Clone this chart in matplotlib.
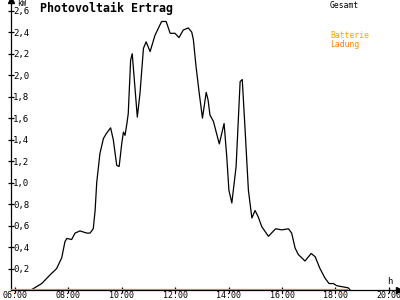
import matplotlib.pyplot as plt
import numpy as np

# Gesamt-Leistung (kW) ueber die Uhrzeit (h)
stunde = [6.60, 7.00, 7.31, 7.56, 7.75, 7.87, 7.94, 8.12, 8.25, 8.43, 8.69, 8.81,
          8.93, 9.00, 9.06, 9.18, 9.31, 9.43, 9.58, 9.68, 9.81, 9.90, 10.00, 10.06,
          10.12, 10.19, 10.24, 10.33, 10.39, 10.49, 10.58, 10.68, 10.81, 10.91, 11.06,
          11.24, 11.49, 11.66, 11.81, 11.99, 12.14, 12.30, 12.49, 12.62, 12.68, 12.78,
          12.90, 13.02, 13.16, 13.23, 13.30, 13.43, 13.65, 13.83, 13.93, 14.01, 14.12,
          14.28, 14.43, 14.51, 14.61, 14.74, 14.87, 14.99, 15.11, 15.24, 15.49, 15.76,
          15.99, 16.24, 16.36, 16.49, 16.61, 16.86, 17.09, 17.24, 17.42, 17.61, 17.76,
          17.92, 18.05, 18.26, 18.48, 18.55]
gesamt = [0.00, 0.06, 0.14, 0.20, 0.30, 0.45, 0.48, 0.47, 0.53, 0.55, 0.53, 0.53,
          0.57, 0.74, 1.00, 1.27, 1.41, 1.46, 1.51, 1.40, 1.16, 1.15, 1.37, 1.47,
          1.44, 1.55, 1.64, 2.14, 2.20, 1.89, 1.61, 1.83, 2.25, 2.31, 2.22,
          2.37, 2.50, 2.50, 2.39, 2.39, 2.35, 2.42, 2.44, 2.40, 2.33, 2.08,
          1.83, 1.60, 1.84, 1.77, 1.63, 1.57, 1.36, 1.55, 1.24, 0.93, 0.81,
          1.15, 1.94, 1.96, 1.52, 0.93, 0.67, 0.74, 0.68, 0.59, 0.50, 0.57,
          0.56, 0.57, 0.53, 0.39, 0.33, 0.27, 0.34, 0.31, 0.20, 0.11, 0.06,
          0.06, 0.04, 0.03, 0.02, 0.00]

# Batterie-Ladung (kW), ganztags 0
ladung_zeit = [5.85, 18.47]
ladung = [0.0, 0.0]

x_ticks = [6, 8, 10, 12, 14, 16, 18, 20]
y_ticks = [0.2, 0.4, 0.6, 0.8, 1.0, 1.2, 1.4, 1.6, 1.8, 2.0, 2.2, 2.4, 2.6]

MONO = 'DejaVu Sans Mono'

fig = plt.figure(figsize=(4, 3), dpi=100)
ax = fig.add_axes([11 / 400, 10 / 300, 388 / 400, 290 / 300])

ax.plot(stunde, gesamt, color='black', lw=0.9)
ax.plot(ladung_zeit, ladung, color='#ff8000', lw=1.6, solid_capstyle='butt', zorder=5)

ax.set_xlim(5.85, 20.38)
ax.set_ylim(0, 2.70)

for s in ['top', 'right']:
    ax.spines[s].set_visible(False)
for s in ['left', 'bottom']:
    ax.spines[s].set_linewidth(0.9)

# Pfeile an den Achsenenden
ax.plot([1], [0], marker='>', ms=4, color='black', transform=ax.transAxes, clip_on=False)
ax.plot([0], [1], marker='^', ms=4, color='black', transform=ax.transAxes, clip_on=False)

ax.set_xticks(x_ticks)
ax.set_xticklabels(['%02d:00' % h for h in x_ticks], fontfamily=MONO, fontsize=6)
ax.set_yticks(y_ticks)
ax.set_yticklabels([('%.1f' % v).replace('.', ',') for v in y_ticks],
                   fontfamily=MONO, fontsize=6.5)
ax.tick_params(axis='both', direction='inout', length=5, width=0.9)
ax.tick_params(axis='x', pad=-1.5)
ax.tick_params(axis='y', pad=-4)
for lab in ax.get_yticklabels():
    lab.set_horizontalalignment('left')

fig.text(17 / 400, 1 - 4 / 300, 'kW', fontfamily=MONO, fontsize=5.5, va='center')
fig.text(387 / 400, 1 - 281 / 300, 'h', fontfamily=MONO, fontsize=6.5, va='center')
fig.text(40 / 400, 1 - 8 / 300, 'Photovoltaik Ertrag', fontfamily=MONO,
         fontsize=8.4, fontweight='bold', va='center')
fig.text(330 / 400, 1 - 5 / 300, 'Gesamt', fontfamily=MONO, fontsize=5.8, va='center')
fig.text(330 / 400, 1 - 36 / 300, 'Batterie', fontfamily=MONO, fontsize=5.8,
         va='center', color='#ffa500')
fig.text(330 / 400, 1 - 44 / 300, 'Ladung', fontfamily=MONO, fontsize=5.8,
         va='center', color='#ff8000')

fig.savefig('out.png', dpi=100)
